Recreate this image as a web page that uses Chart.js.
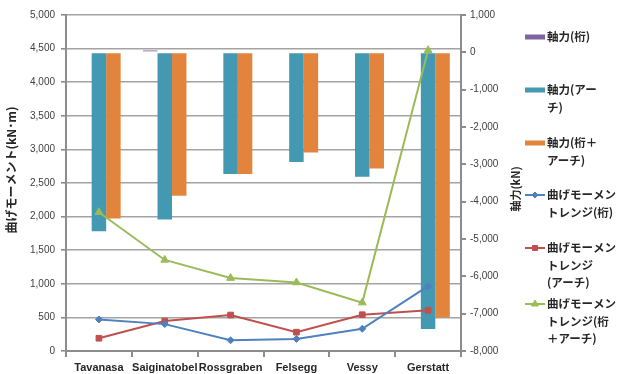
<!DOCTYPE html>
<html>
<head>
<meta charset="utf-8">
<script src="https://cdn.jsdelivr.net/npm/chart.js@4"></script>
<style>
  html, body { margin: 0; padding: 0; background: #fff; }
  #wrap { width: 619px; height: 374px; position: relative; }
</style>
</head>
<body>
<div id="wrap"><canvas id="c" width="619" height="374"></canvas></div>
<script>
// Bridges
const categories = ['Tavanasa', 'Saiginatobel', 'Rossgraben', 'Felsegg', 'Vessy', 'Gerstatt'];

// Axial force (kN), right axis
const axialGirder = [0, 50, 0, 0, 0, 0];
const axialArch = [-4790, -4480, -3260, -2940, -3330, -7410];
const axialGirderArch = [-4450, -3840, -3260, -2680, -3110, -7100];

// Bending moment range (kN·m), left axis
const momentGirder = [470, 400, 160, 180, 330, 965];
const momentArch = [190, 445, 535, 280, 540, 605];
const momentGirderArch = [2065, 1355, 1085, 1020, 720, 4475];

// Legend labels (line breaks as shown)
const seriesNames = [
  '軸力(桁)',
  '軸力(アー\nチ)',
  '軸力(桁＋\nアーチ)',
  '曲げモーメン\nトレンジ(桁)',
  '曲げモーメン\nトレンジ\n(アーチ)',
  '曲げモーメン\nトレンジ(桁\n＋アーチ)'
];

const leftTitle = '曲げモーメント(kN･m)';
const rightTitle = '軸力(kN)';

const C_PURPLE = '#8064A2', C_TEAL = '#4399B1', C_ORANGE = '#E2843C';
const C_BLUE = '#4F81BD', C_RED = '#C0504D', C_GREEN = '#9BBB59';
const GRID = '#a3a3a3', AXIS = '#8c8c8c';
const TICK_FONT = { family: 'Liberation Sans, Arial, sans-serif', size: 10 };
const JP = '"Noto Sans CJK JP", sans-serif';

const barCommon = { type: 'bar', yAxisID: 'y2', order: 2, barPercentage: 1, categoryPercentage: 0.66, borderWidth: 0 };
const lineCommon = { type: 'line', yAxisID: 'y', order: 1, borderWidth: 2, tension: 0, pointBorderWidth: 1 };

// Legend + axis titles drawn on the canvas
const sideText = {
  id: 'sideText',
  afterDraw(chart) {
    const ctx = chart.ctx;
    ctx.save();
    // axis titles
    ctx.fillStyle = '#262626';
    ctx.textAlign = 'center';
    ctx.textBaseline = 'middle';
    ctx.save();
    ctx.font = 'bold 12px ' + JP;
    ctx.translate(11, 170);
    ctx.rotate(-Math.PI / 2);
    ctx.fillText(leftTitle, 0, 0);
    ctx.restore();
    ctx.save();
    ctx.font = 'bold 11px ' + JP;
    ctx.translate(516, 189);
    ctx.rotate(-Math.PI / 2);
    ctx.fillText(rightTitle, 0, 0);
    ctx.restore();

    // legend
    const rows = [37, 90, 143, 195, 248, 304];
    const x0 = 525, x1 = 545;
    chart.data.datasets.forEach((ds, i) => {
      const y = rows[i];
      if (ds.type === 'bar') {
        ctx.fillStyle = ds.backgroundColor;
        ctx.fillRect(x0, y - 2.5, x1 - x0, 5);
      } else {
        ctx.strokeStyle = ds.borderColor;
        ctx.lineWidth = 2;
        ctx.beginPath();
        ctx.moveTo(x0, y);
        ctx.lineTo(x1, y);
        ctx.stroke();
        ctx.fillStyle = ds.pointBackgroundColor;
        ctx.strokeStyle = ds.borderColor;
        ctx.lineWidth = 1;
        Chart.helpers.drawPoint(ctx, {
          pointStyle: ds.pointStyle, radius: ds.pointRadius - 0.5, borderWidth: 1, rotation: 0
        }, (x0 + x1) / 2, y);
      }
      ctx.fillStyle = '#262626';
      ctx.font = 'bold 11.5px ' + JP;
      ctx.textAlign = 'left';
      ctx.textBaseline = 'middle';
      seriesNames[i].split('\n').forEach((ln, k) => ctx.fillText(ln, 547, y + k * 17.5));
    });
    ctx.restore();
  }
};

new Chart(document.getElementById('c'), {
  data: {
    labels: categories,
    datasets: [
      Object.assign({}, barCommon, { label: seriesNames[0], data: axialGirder, backgroundColor: C_PURPLE }),
      Object.assign({}, barCommon, { label: seriesNames[1], data: axialArch, backgroundColor: C_TEAL }),
      Object.assign({}, barCommon, { label: seriesNames[2], data: axialGirderArch, backgroundColor: C_ORANGE }),
      Object.assign({}, lineCommon, { label: seriesNames[3], data: momentGirder, borderColor: C_BLUE,
        backgroundColor: C_BLUE, pointBackgroundColor: C_BLUE, pointBorderColor: C_BLUE, pointStyle: 'rectRot', pointRadius: 3.5 }),
      Object.assign({}, lineCommon, { label: seriesNames[4], data: momentArch, borderColor: C_RED,
        backgroundColor: C_RED, pointBackgroundColor: C_RED, pointBorderColor: C_RED, pointStyle: 'rect', pointRadius: 4 }),
      Object.assign({}, lineCommon, { label: seriesNames[5], data: momentGirderArch, borderColor: C_GREEN,
        backgroundColor: C_GREEN, pointBackgroundColor: C_GREEN, pointBorderColor: C_GREEN, pointStyle: 'triangle', pointRadius: 4.5 })
    ]
  },
  options: {
    responsive: false,
    animation: false,
    locale: 'en-US',
    layout: { padding: { top: 15, right: 0, left: 0, bottom: 0 } },
    plugins: { legend: { display: false }, tooltip: { enabled: false } },
    scales: {
      x: {
        offset: true,
        grid: { display: true, offset: true, drawOnChartArea: false, drawTicks: true, tickLength: 6, color: AXIS, lineWidth: 2 },
        border: { display: true, color: AXIS, width: 2 },
        ticks: { color: '#262626', font: { family: 'Liberation Sans, Arial, sans-serif', size: 11, weight: 'bold' }, padding: 4, maxRotation: 0, autoSkip: false },
        afterFit(s) { s.height = 23; }
      },
      y: {
        position: 'left',
        min: 0, max: 5000,
        ticks: { stepSize: 500, color: '#404040', font: TICK_FONT, padding: 6 },
        grid: { color: GRID, lineWidth: 1.6, tickLength: 5, drawTicks: true, tickColor: AXIS },
        border: { color: AXIS, width: 2 },
        afterFit(s) { s.width = 66; }
      },
      y2: {
        position: 'right',
        min: -8000, max: 1000,
        ticks: { stepSize: 1000, color: '#404040', font: TICK_FONT, padding: 4 },
        grid: { drawOnChartArea: false, tickLength: 5, color: AXIS, lineWidth: 2 },
        border: { color: AXIS, width: 2 },
        afterFit(s) { s.width = 158; }
      }
    }
  },
  plugins: [sideText]
});
</script>
</body>
</html>
